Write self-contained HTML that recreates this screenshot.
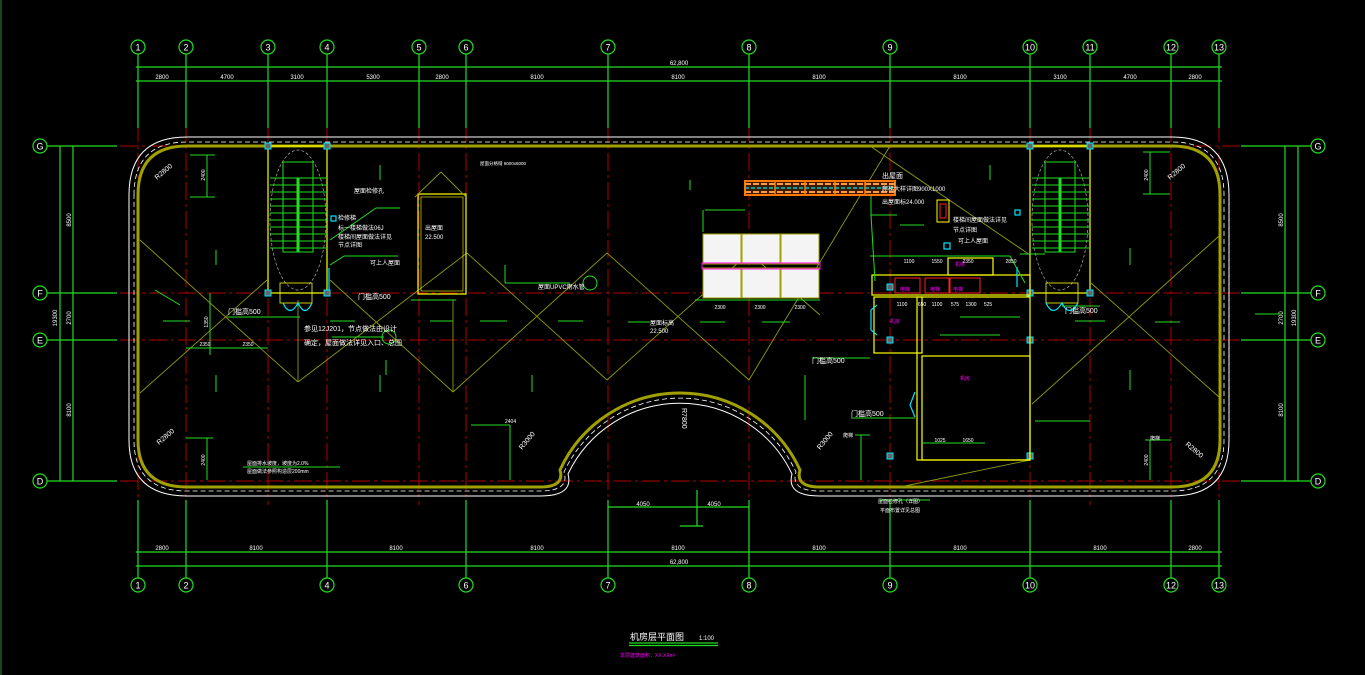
<!DOCTYPE html>
<html><head><meta charset="utf-8"><style>
html,body{margin:0;padding:0;background:#000;}
svg{display:block;}
text{font-family:"Liberation Sans","Noto Sans CJK SC",sans-serif;}
</style></head><body>
<svg width="1365" height="675" viewBox="0 0 1365 675" xmlns="http://www.w3.org/2000/svg">
<rect width="1365" height="675" fill="#000"/>
<line x1="1" y1="0" x2="1" y2="675" stroke="#2f8f2f" stroke-width="1"/>

<g stroke="#b00000" stroke-width="1" stroke-dasharray="18,4,3,4" fill="none">
  <line x1="120" y1="146" x2="1240" y2="146"/>
  <line x1="120" y1="293" x2="1240" y2="293"/>
  <line x1="120" y1="340" x2="1240" y2="340"/>
  <line x1="120" y1="481" x2="1240" y2="481"/>
  <line x1="138" y1="95" x2="138" y2="505"/>
  <line x1="186" y1="95" x2="186" y2="505"/>
  <line x1="268" y1="95" x2="268" y2="505"/>
  <line x1="327" y1="95" x2="327" y2="505"/>
  <line x1="419" y1="95" x2="419" y2="505"/>
  <line x1="466" y1="95" x2="466" y2="505"/>
  <line x1="608" y1="95" x2="608" y2="505"/>
  <line x1="749" y1="95" x2="749" y2="505"/>
  <line x1="890" y1="95" x2="890" y2="505"/>
  <line x1="1030" y1="95" x2="1030" y2="505"/>
  <line x1="1090" y1="95" x2="1090" y2="505"/>
  <line x1="1171" y1="95" x2="1171" y2="505"/>
  <line x1="1219" y1="95" x2="1219" y2="505"/>
</g>

<g stroke="#22dd22" stroke-width="1.2" fill="none">
  <line x1="136" y1="67" x2="1222" y2="67"/>
  <line x1="136" y1="81" x2="1222" y2="81"/>
  <line x1="136" y1="552" x2="1222" y2="552"/>
  <line x1="136" y1="566" x2="1222" y2="566"/>
  <g>
    <line x1="138" y1="54" x2="138" y2="128"/><line x1="186" y1="54" x2="186" y2="128"/>
    <line x1="268" y1="54" x2="268" y2="128"/><line x1="327" y1="54" x2="327" y2="128"/>
    <line x1="419" y1="54" x2="419" y2="128"/><line x1="466" y1="54" x2="466" y2="128"/>
    <line x1="608" y1="54" x2="608" y2="128"/><line x1="749" y1="54" x2="749" y2="128"/>
    <line x1="890" y1="54" x2="890" y2="128"/><line x1="1030" y1="54" x2="1030" y2="128"/>
    <line x1="1090" y1="54" x2="1090" y2="128"/><line x1="1171" y1="54" x2="1171" y2="128"/>
    <line x1="1219" y1="54" x2="1219" y2="128"/>
  </g>
  <g>
    <line x1="138" y1="500" x2="138" y2="578"/><line x1="186" y1="500" x2="186" y2="578"/>
    <line x1="327" y1="500" x2="327" y2="578"/><line x1="466" y1="500" x2="466" y2="578"/>
    <line x1="608" y1="500" x2="608" y2="578"/><line x1="749" y1="500" x2="749" y2="578"/>
    <line x1="890" y1="500" x2="890" y2="578"/><line x1="1030" y1="500" x2="1030" y2="578"/>
    <line x1="1171" y1="500" x2="1171" y2="578"/><line x1="1219" y1="500" x2="1219" y2="578"/>
  </g>
  <line x1="47" y1="146" x2="117" y2="146"/><line x1="47" y1="293" x2="117" y2="293"/>
  <line x1="47" y1="340" x2="117" y2="340"/><line x1="47" y1="481" x2="117" y2="481"/>
  <line x1="60" y1="146" x2="60" y2="481"/><line x1="73" y1="146" x2="73" y2="481"/>
  <line x1="1241" y1="146" x2="1311" y2="146"/><line x1="1241" y1="293" x2="1311" y2="293"/>
  <line x1="1241" y1="340" x2="1311" y2="340"/><line x1="1241" y1="481" x2="1311" y2="481"/>
  <line x1="1285" y1="146" x2="1285" y2="481"/><line x1="1298" y1="146" x2="1298" y2="481"/>
  <line x1="608" y1="507" x2="749" y2="507"/><line x1="697" y1="490" x2="697" y2="526"/><line x1="680" y1="526" x2="703" y2="526"/>
  <line x1="629" y1="643" x2="718" y2="643"/><line x1="629" y1="645.5" x2="718" y2="645.5"/>
</g>

<g stroke="#22dd22" stroke-width="1.2" fill="#000">
  <circle cx="138" cy="47" r="7"/><circle cx="186" cy="47" r="7"/><circle cx="268" cy="47" r="7"/><circle cx="327" cy="47" r="7"/><circle cx="419" cy="47" r="7"/><circle cx="466" cy="47" r="7"/><circle cx="608" cy="47" r="7"/><circle cx="749" cy="47" r="7"/><circle cx="890" cy="47" r="7"/><circle cx="1030" cy="47" r="7"/><circle cx="1090" cy="47" r="7"/><circle cx="1171" cy="47" r="7"/><circle cx="1219" cy="47" r="7"/>
  <circle cx="138" cy="585" r="7"/><circle cx="186" cy="585" r="7"/><circle cx="327" cy="585" r="7"/><circle cx="466" cy="585" r="7"/><circle cx="608" cy="585" r="7"/><circle cx="749" cy="585" r="7"/><circle cx="890" cy="585" r="7"/><circle cx="1030" cy="585" r="7"/><circle cx="1171" cy="585" r="7"/><circle cx="1219" cy="585" r="7"/>
  <circle cx="40" cy="146" r="7"/><circle cx="40" cy="293" r="7"/><circle cx="40" cy="340" r="7"/><circle cx="40" cy="481" r="7"/>
  <circle cx="1318" cy="146" r="7"/><circle cx="1318" cy="293" r="7"/><circle cx="1318" cy="340" r="7"/><circle cx="1318" cy="481" r="7"/>
</g>
<g fill="#fff" font-size="9" text-anchor="middle">
  <text x="138" y="50.5">1</text><text x="186" y="50.5">2</text><text x="268" y="50.5">3</text><text x="327" y="50.5">4</text><text x="419" y="50.5">5</text><text x="466" y="50.5">6</text><text x="608" y="50.5">7</text><text x="749" y="50.5">8</text><text x="890" y="50.5">9</text><text x="1030" y="50.5">10</text><text x="1090" y="50.5">11</text><text x="1171" y="50.5">12</text><text x="1219" y="50.5">13</text>
  <text x="138" y="588.5">1</text><text x="186" y="588.5">2</text><text x="327" y="588.5">4</text><text x="466" y="588.5">6</text><text x="608" y="588.5">7</text><text x="749" y="588.5">8</text><text x="890" y="588.5">9</text><text x="1030" y="588.5">10</text><text x="1171" y="588.5">12</text><text x="1219" y="588.5">13</text>
  <text x="40" y="149.5">G</text><text x="40" y="296.5">F</text><text x="40" y="343.5">E</text><text x="40" y="484.5">D</text>
  <text x="1318" y="149.5">G</text><text x="1318" y="296.5">F</text><text x="1318" y="343.5">E</text><text x="1318" y="484.5">D</text>
</g>
<g fill="#fff" font-size="6" text-anchor="middle">
  <text x="679" y="65">62,800</text>
  <text x="162" y="79">2800</text><text x="227" y="79">4700</text><text x="297" y="79">3100</text><text x="373" y="79">5300</text><text x="442" y="79">2800</text><text x="537" y="79">8100</text><text x="678" y="79">8100</text><text x="819" y="79">8100</text><text x="960" y="79">8100</text><text x="1060" y="79">3100</text><text x="1130" y="79">4700</text><text x="1195" y="79">2800</text>
  <text x="162" y="550">2800</text><text x="256" y="550">8100</text><text x="396" y="550">8100</text><text x="537" y="550">8100</text><text x="678" y="550">8100</text><text x="819" y="550">8100</text><text x="960" y="550">8100</text><text x="1100" y="550">8100</text><text x="1195" y="550">2800</text>
  <text x="679" y="564">62,800</text>
  <text x="643" y="506">4050</text><text x="714" y="506">4050</text>
</g>
<g fill="#fff" font-size="6" text-anchor="middle">
  <text transform="translate(71,220) rotate(-90)">8500</text><text transform="translate(71,318) rotate(-90)">2700</text><text transform="translate(71,410) rotate(-90)">8100</text><text transform="translate(57,318) rotate(-90)">19300</text>
  <text transform="translate(1283,220) rotate(-90)">8500</text><text transform="translate(1283,318) rotate(-90)">2700</text><text transform="translate(1283,410) rotate(-90)">8100</text><text transform="translate(1296,318) rotate(-90)">19300</text>
</g>

<path d="M138 195 Q138 146 187 146 L1172 146 Q1220 146 1220 195 L1220 440 Q1220 487 1172 487 L820 487 Q795 487 800 470 A132 132 0 0 0 560 470 Q565 487 540 487 L187 487 Q138 487 138 440 Z" fill="none" stroke="#a0a000" stroke-width="3"/>
<path d="M134 195 Q134 142 187 142 L1172 142 Q1224 142 1224 195 L1224 440 Q1224 491 1172 491 L820 491 Q790 491 796 472 A128 128 0 0 0 564 472 Q570 491 540 491 L187 491 Q134 491 134 440 Z" fill="none" stroke="#fff" stroke-width="0.8" stroke-dasharray="5,3"/>
<path d="M129 195 Q129 137 187 137 L1172 137 Q1229 137 1229 195 L1229 440 Q1229 496 1172 496 L820 496 Q786 496 792 474 A124 124 0 0 0 568 474 Q574 496 540 496 L187 496 Q129 496 129 440 Z" fill="none" stroke="#fff" stroke-width="1"/>

<g stroke="#8f9a10" stroke-width="0.9" fill="none">
  <line x1="140" y1="240" x2="298" y2="382"/>
  <line x1="140" y1="393" x2="267" y2="280"/>
  <line x1="298" y1="382" x2="467" y2="253"/>
  <line x1="330" y1="280" x2="453" y2="392"/>
  <line x1="453" y1="392" x2="607" y2="253"/>
  <line x1="467" y1="253" x2="607" y2="380"/>
  <line x1="607" y1="380" x2="749" y2="253"/>
  <line x1="607" y1="253" x2="749" y2="380"/>
  <line x1="749" y1="380" x2="890" y2="146"/>
  <line x1="749" y1="253" x2="820" y2="315"/>
  <line x1="1219" y1="236" x2="1032" y2="404"/>
  <line x1="1091" y1="283" x2="1219" y2="397"/>
  <line x1="298" y1="382" x2="298" y2="300"/>
  <line x1="453" y1="392" x2="453" y2="300"/>
  <line x1="870" y1="146" x2="1030" y2="255"/>
  <line x1="900" y1="487" x2="1030" y2="460"/>
</g>

<rect x="268" y="146" width="59" height="147" fill="none" stroke="#ffff00" stroke-width="1.2"/>
<ellipse cx="298" cy="220" rx="28" ry="70" fill="none" stroke="#aaa" stroke-width="0.7" stroke-dasharray="3,2"/>
<g stroke="#22dd22" stroke-width="1">
  <rect x="283" y="162" width="30" height="90" fill="none"/>
  <line x1="298" y1="178" x2="298" y2="252" stroke-width="3"/>
  <line x1="270" y1="178" x2="327" y2="178"/><line x1="270" y1="185" x2="327" y2="185"/><line x1="270" y1="192" x2="327" y2="192"/><line x1="270" y1="199" x2="327" y2="199"/><line x1="270" y1="206" x2="327" y2="206"/><line x1="270" y1="213" x2="327" y2="213"/><line x1="270" y1="220" x2="327" y2="220"/><line x1="270" y1="227" x2="327" y2="227"/><line x1="270" y1="234" x2="327" y2="234"/><line x1="270" y1="241" x2="327" y2="241"/><line x1="270" y1="248" x2="327" y2="248"/>
</g>
<rect x="280" y="283" width="32" height="20" fill="none" stroke="#ffff00" stroke-width="0.8"/>
<rect x="1030" y="146" width="60" height="147" fill="none" stroke="#ffff00" stroke-width="1.2"/>
<ellipse cx="1060" cy="220" rx="28" ry="70" fill="none" stroke="#aaa" stroke-width="0.7" stroke-dasharray="3,2"/>
<g stroke="#22dd22" stroke-width="1">
  <rect x="1045" y="162" width="30" height="90" fill="none"/>
  <line x1="1060" y1="178" x2="1060" y2="252" stroke-width="3"/>
  <line x1="1032" y1="178" x2="1089" y2="178"/><line x1="1032" y1="185" x2="1089" y2="185"/><line x1="1032" y1="192" x2="1089" y2="192"/><line x1="1032" y1="199" x2="1089" y2="199"/><line x1="1032" y1="206" x2="1089" y2="206"/><line x1="1032" y1="213" x2="1089" y2="213"/><line x1="1032" y1="220" x2="1089" y2="220"/><line x1="1032" y1="227" x2="1089" y2="227"/><line x1="1032" y1="234" x2="1089" y2="234"/><line x1="1032" y1="241" x2="1089" y2="241"/><line x1="1032" y1="248" x2="1089" y2="248"/>
</g>
<rect x="1046" y="283" width="32" height="20" fill="none" stroke="#ffff00" stroke-width="0.8"/>

<rect x="418" y="194" width="48" height="100" fill="none" stroke="#ffff00" stroke-width="1.2"/>
<rect x="421" y="197" width="42" height="94" fill="none" stroke="#ffff00" stroke-width="0.6"/>
<polyline points="415,197 441,172 466,197" fill="none" stroke="#8f9a10" stroke-width="0.9"/>

<g fill="#666" stroke="#00e5ff" stroke-width="1">
  <rect x="265" y="143" width="6" height="6"/><rect x="324" y="143" width="6" height="6"/><rect x="265" y="290" width="6" height="6"/><rect x="324" y="290" width="6" height="6"/>
  <rect x="1027" y="143" width="6" height="6"/><rect x="1087" y="143" width="6" height="6"/><rect x="1027" y="290" width="6" height="6"/><rect x="1087" y="290" width="6" height="6"/>
  <rect x="887" y="284" width="6" height="6"/><rect x="887" y="337" width="6" height="6"/><rect x="1027" y="337" width="6" height="6"/><rect x="1027" y="453" width="6" height="6"/><rect x="887" y="453" width="6" height="6"/>
</g>

<rect x="745" y="181" width="150" height="14" fill="#3a1a00" stroke="#ff7700" stroke-width="2"/>
<line x1="745" y1="184" x2="895" y2="184" stroke="#ff9a40" stroke-width="2" stroke-dasharray="6,2"/>
<line x1="745" y1="188" x2="895" y2="188" stroke="#00c8c8" stroke-width="1.5" stroke-dasharray="4,2"/>
<line x1="745" y1="192" x2="895" y2="192" stroke="#ff9a40" stroke-width="2" stroke-dasharray="6,2"/>
<g stroke="#ff7700" stroke-width="1.5"><line x1="775" y1="181" x2="775" y2="195"/><line x1="805" y1="181" x2="805" y2="195"/><line x1="835" y1="181" x2="835" y2="195"/><line x1="865" y1="181" x2="865" y2="195"/></g>
<g fill="#f4f4f4" stroke="#a0a000" stroke-width="1">
  <rect x="703" y="234" width="38" height="30"/><rect x="742" y="234" width="38" height="30"/><rect x="781" y="234" width="38" height="30"/>
  <rect x="703" y="268" width="38" height="30"/><rect x="742" y="268" width="38" height="30"/><rect x="781" y="268" width="38" height="30"/>
</g>
<rect x="702" y="263" width="118" height="6" fill="none" stroke="#ff00ff" stroke-width="1"/>

<g fill="none" stroke="#ffff00" stroke-width="1.2">
  <rect x="872" y="275" width="158" height="20"/>
  <rect x="874" y="297" width="48" height="56"/>
  <rect x="922" y="356" width="108" height="104"/>
  <rect x="917" y="297" width="113" height="163"/>
  <rect x="948" y="258" width="45" height="17"/>
</g>
<g fill="none" stroke="#ff2020" stroke-width="1">
  <rect x="895" y="278" width="25" height="15"/><rect x="925" y="278" width="24" height="15"/><rect x="950" y="278" width="30" height="15"/>
</g>
<rect x="937" y="200" width="12" height="22" fill="none" stroke="#ffff00" stroke-width="1"/>
<rect x="940" y="204" width="6" height="14" fill="none" stroke="#ff2020" stroke-width="1"/>
<g fill="#ff00ff" font-size="5">
  <text x="890" y="323">机房</text><text x="960" y="380">机房</text><text x="955" y="266">机房</text><text x="900" y="291">电梯</text><text x="930" y="291">电梯</text><text x="953" y="291">电梯</text>
</g>

<g stroke="#22dd22" stroke-width="1" fill="none">
  <line x1="190" y1="155" x2="215" y2="155"/><line x1="190" y1="197" x2="215" y2="197"/><line x1="207" y1="155" x2="207" y2="197"/>
  <line x1="1143" y1="152" x2="1170" y2="152"/><line x1="1143" y1="194" x2="1170" y2="194"/><line x1="1150" y1="152" x2="1150" y2="194"/>
  <line x1="186" y1="438" x2="213" y2="438"/><line x1="207" y1="438" x2="207" y2="480"/>
  <line x1="1145" y1="440" x2="1171" y2="440"/><line x1="1150" y1="440" x2="1150" y2="480"/>
  <line x1="186" y1="348" x2="268" y2="348"/><line x1="210" y1="340" x2="210" y2="355"/>
  <line x1="210" y1="293" x2="210" y2="340"/>
  <line x1="227" y1="317" x2="300" y2="317"/>
  <line x1="330" y1="240" x2="376" y2="208"/><line x1="376" y1="208" x2="400" y2="208"/>
  <line x1="330" y1="265" x2="344" y2="256"/><line x1="344" y1="256" x2="398" y2="256"/>
  <line x1="411" y1="300" x2="456" y2="300"/>
  <line x1="332" y1="337" x2="384" y2="337"/>
  <line x1="505" y1="283" x2="570" y2="283"/><line x1="505" y1="283" x2="505" y2="265"/>
  <line x1="471" y1="425" x2="510" y2="425"/><line x1="510" y1="425" x2="510" y2="480"/>
  <line x1="812" y1="358" x2="870" y2="358"/><line x1="805" y1="375" x2="805" y2="420"/>
  <line x1="851" y1="418" x2="915" y2="418"/>
  <line x1="855" y1="435" x2="870" y2="435"/><line x1="861" y1="435" x2="861" y2="480"/>
  <line x1="871" y1="215" x2="875" y2="281"/><line x1="871" y1="215" x2="897" y2="215"/><line x1="871" y1="215" x2="871" y2="196"/>
  <line x1="870" y1="256" x2="1010" y2="256"/>
  <line x1="1010" y1="256" x2="1025" y2="283"/>
  <line x1="1020" y1="254" x2="1045" y2="254"/>
  <line x1="705" y1="210" x2="745" y2="210"/><line x1="703" y1="210" x2="703" y2="232"/>
  <line x1="695" y1="300" x2="820" y2="300"/>
  <line x1="960" y1="317" x2="1020" y2="317"/>
  <line x1="940" y1="335" x2="1000" y2="335"/>
  <line x1="1035" y1="421" x2="1090" y2="421"/>
  <line x1="922" y1="443" x2="985" y2="443"/>
  <line x1="880" y1="500" x2="930" y2="500"/>
  <line x1="243" y1="467" x2="340" y2="467"/>
  <line x1="1062" y1="306" x2="1100" y2="306"/>
  <line x1="1255" y1="314" x2="1282" y2="314"/>
  <line x1="155" y1="290" x2="180" y2="305"/>
  <circle cx="389" cy="337" r="7"/><circle cx="590" cy="283" r="7"/>
</g>
<g stroke="#22dd22" stroke-width="1">
  <line x1="216" y1="250" x2="216" y2="265"/><line x1="380" y1="165" x2="380" y2="180"/><line x1="216" y1="375" x2="216" y2="392"/><line x1="380" y1="375" x2="380" y2="392"/><line x1="532" y1="375" x2="532" y2="392"/>
  <line x1="163" y1="321" x2="190" y2="321"/><line x1="330" y1="321" x2="355" y2="321"/><line x1="430" y1="321" x2="453" y2="321"/><line x1="480" y1="321" x2="507" y2="321"/><line x1="558" y1="321" x2="583" y2="321"/>
  <line x1="628" y1="322" x2="650" y2="322"/><line x1="700" y1="322" x2="725" y2="322"/><line x1="762" y1="322" x2="790" y2="322"/>
  <line x1="1130" y1="248" x2="1130" y2="265"/><line x1="1130" y1="370" x2="1130" y2="390"/><line x1="990" y1="165" x2="990" y2="180"/><line x1="1155" y1="322" x2="1180" y2="322"/><line x1="1075" y1="321" x2="1105" y2="321"/>
  <line x1="900" y1="225" x2="924" y2="225"/><line x1="690" y1="180" x2="690" y2="190"/>
  <line x1="386" y1="360" x2="386" y2="375"/>
</g>
<g fill="none" stroke="#00e5ff" stroke-width="1.2">
  <line x1="329" y1="268" x2="329" y2="290"/>
  <rect x="331" y="216" width="5" height="5"/>
  <path d="M283 303 Q290 318 298 303 Q305 318 312 303"/>
  <path d="M1046 303 Q1053 318 1062 303 Q1069 318 1078 303"/>
  <line x1="1017" y1="267" x2="1017" y2="287"/>
  <rect x="1015" y="210" width="5" height="5"/>
  <rect x="944" y="243" width="6" height="6"/>
  <path d="M877 305 L871 310 L871 330 L877 335"/>
  <path d="M915 392 L910 405 L915 417"/>
</g>

<g fill="#fff" font-size="6">
  <text x="354" y="193">屋面检修孔</text>
  <text x="338" y="220">检修梯</text>
  <text x="338" y="230">标一楼梯做法06J</text>
  <text x="338" y="239">楼梯间屋面做法详见</text>
  <text x="338" y="247">节点详图</text>
  <text x="370" y="265">可上人屋面</text>
  <text x="358" y="299" font-size="7">门槛高500</text>
  <text x="228" y="314" font-size="7">门槛高500</text>
  <text x="304" y="331" font-size="7">参见12J201，节点做法由设计</text>
  <text x="304" y="345" font-size="7">确定，屋面做法详见入口、总图</text>
  <text x="425" y="230">出屋面</text><text x="425" y="239">22.500</text>
  <text x="538" y="289">屋面UPVC雨水管</text>
  <text x="650" y="325">屋面标高</text><text x="650" y="333">22.500</text>
  <text x="480" y="165" font-size="4.5">屋面分格缝 6000x6000</text>
  <text x="882" y="191">爬梯大样详图900X1000</text>
  <text x="882" y="178" font-size="7">出屋面</text>
  <text x="882" y="204" font-size="6">出屋面标24.000</text>
  <text x="953" y="222">楼梯间屋面做法详见</text>
  <text x="953" y="232">节点详图</text>
  <text x="958" y="243">可上人屋面</text>
  <text x="812" y="363" font-size="7">门槛高500</text>
  <text x="851" y="416" font-size="7">门槛高500</text>
  <text x="1065" y="313" font-size="7">门槛高500</text>
  <text x="247" y="465" font-size="5">屋面排水坡度，坡度为2.0%</text>
  <text x="247" y="473" font-size="5">屋面做法参照构造层200mm</text>
  <text x="878" y="503" font-size="5">屋面检修孔（详图）</text>
  <text x="880" y="512" font-size="5">平面布置详见总图</text>
  <text x="505" y="423" font-size="5">2404</text>
  <text x="1150" y="440" font-size="5">爬梯</text>
  <text x="843" y="437" font-size="5">爬梯</text>
</g>
<g fill="#fff" font-size="7">
  <text transform="translate(157,180) rotate(-40)">R2800</text>
  <text transform="translate(159,445) rotate(-40)">R2800</text>
  <text transform="translate(1170,180) rotate(-40)">R2800</text>
  <text transform="translate(1185,445) rotate(40)">R2800</text>
  <text transform="translate(522,450) rotate(-50)">R3000</text>
  <text transform="translate(820,450) rotate(-50)">R3000</text>
  <text transform="translate(682,408) rotate(90)">R7800</text>
</g>
<g fill="#fff" font-size="5" text-anchor="middle">
  <text transform="translate(205,175) rotate(-90)">2400</text>
  <text transform="translate(1148,175) rotate(-90)">2400</text>
  <text transform="translate(205,460) rotate(-90)">2400</text>
  <text transform="translate(1148,460) rotate(-90)">2400</text>
  <text transform="translate(208,322) rotate(-90)">1350</text>
  <text x="205" y="346">2350</text><text x="248" y="346">2350</text>
  <text x="909" y="263">1100</text><text x="937" y="263">1550</text><text x="968" y="263">2350</text><text x="1011" y="263">2850</text>
  <text x="902" y="306">1100</text><text x="922" y="306">650</text><text x="937" y="306">1100</text><text x="955" y="306">575</text><text x="971" y="306">1300</text><text x="988" y="306">525</text>
  <text x="720" y="309">2300</text><text x="760" y="309">2300</text><text x="800" y="309">2300</text>
  <text x="940" y="442">1025</text><text x="968" y="442">1650</text>
</g>

<text x="630" y="640" fill="#fff" font-size="9">机房层平面图</text>
<text x="699" y="640" fill="#fff" font-size="6">1:100</text>
<text x="620" y="657" fill="#ff00ff" font-size="5">本层建筑面积：XX.XXm²</text>
</svg>
</body></html>
